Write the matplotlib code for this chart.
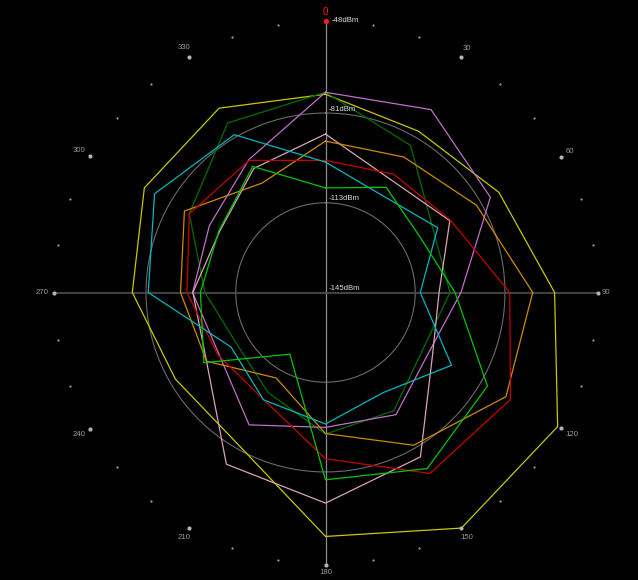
import numpy as np
import matplotlib
matplotlib.use("Agg")
import matplotlib.pyplot as plt

# ---- data (dBm per azimuth) ----
angles_deg = [0, 30, 60, 90, 120, 150, 180, 210, 240, 270, 300, 330]
yellow = [-74.3, -78.6, -73.6, -63.3, -49.4, -48.0, -58.0, -82.5, -83.2, -76.1, -70.4, -69.1]
dark_green = [-73.6, -84.4, -100.6, -100.6, -104.8, -96.3, -94.5, -103.9, -108.4, -102.0, -88.9, -75.2]
violet = [-73.6, -69.7, -77.1, -96.7, -102.4, -94.7, -96.9, -90.5, -101.1, -97.6, -97.2, -90.3]
pink = [-88.5, -98.5, -93.8, -104.5, -100.9, -77.3, -69.9, -74.3, -96.0, -97.7, -101.4, -93.9]
orange = [-91.0, -89.2, -82.8, -71.1, -70.7, -82.1, -94.7, -109.8, -96.0, -93.3, -86.9, -99.9]
red = [-97.9, -96.3, -93.5, -79.3, -68.8, -70.5, -85.7, -100.9, -100.6, -95.6, -88.9, -90.6]
cyan = [-98.5, -104.9, -98.8, -111.2, -93.1, -103.8, -98.1, -100.8, -106.1, -81.8, -74.6, -80.0]
green = [-107.7, -101.7, -105.9, -98.8, -78.3, -72.5, -78.2, -119.6, -94.9, -100.4, -101.1, -93.1]

series = [
    (yellow, "#c8c800"),
    (dark_green, "#006e00"),
    (violet, "#c070c8"),
    (pink, "#dca4b4"),
    (orange, "#d08a00"),
    (red, "#c80000"),
    (cyan, "#00b8c0"),
    (green, "#00c800"),
]

r_min, r_max = -145, -48
ring_levels = [-81, -113]
ring_labels = ["-48dBm", "-81dBm", "-113dBm", "-145dBm"]
ring_label_vals = [-48, -81, -113, -145]
deg_labels = ["0", "30", "60", "90", "120", "150", "180", "210", "240", "270", "300", "330"]

# ---- figure ----
W, H = 638, 580
fig = plt.figure(figsize=(W / 100, H / 100), dpi=100, facecolor="black")
cx, cy, R = 325.5, 292.5, 272
ax = fig.add_axes([(cx - R) / W, (H - cy - R) / H, 2 * R / W, 2 * R / H], projection="polar")
ax.set_facecolor("black")
ax.set_theta_zero_location("N")
ax.set_theta_direction(-1)
ax.set_rlim(r_min, r_max)
ax.grid(False)
ax.set_xticks([])
ax.set_yticks([])
ax.spines["polar"].set_visible(False)

# grid rings
tt = np.linspace(0, 2 * np.pi, 721)
for lv in ring_levels:
    ax.plot(tt, np.full_like(tt, lv), color="#6a6a6a", lw=0.8, zorder=1)

# axis lines
ax.plot([0, 0], [r_max, r_min], color="#8c8c8c", lw=0.9, zorder=1, clip_on=False)
ax.plot([np.pi, np.pi], [r_min, r_max], color="#8c8c8c", lw=0.9, zorder=1, clip_on=False)
ax.plot([np.pi / 2, np.pi / 2], [r_max, r_min], color="#505050", lw=1.2, zorder=1, clip_on=False)
ax.plot([3 * np.pi / 2, 3 * np.pi / 2], [r_min, r_max], color="#505050", lw=1.2, zorder=1, clip_on=False)

# series
th = np.deg2rad(angles_deg + [angles_deg[0]])
for vals, col in series:
    ax.plot(th, vals + [vals[0]], color=col, lw=0.9, zorder=3, clip_on=False)

# dots around
small = [a for a in range(0, 360, 10) if a % 30 != 0]
big = [a for a in range(30, 360, 30)]
ax.scatter(np.deg2rad(small), [r_max] * len(small), s=2.5, color="#a0a0a0", zorder=4, clip_on=False, linewidths=0)
ax.scatter(np.deg2rad(big), [r_max] * len(big), s=9, color="#b4b4b4", zorder=4, clip_on=False, linewidths=0)
ax.scatter([0], [r_max], s=14, color="#ff2020", zorder=5, clip_on=False, linewidths=0)

# degree labels
for lab in deg_labels:
    a = int(lab)
    rad = np.deg2rad(a)
    sx, sy = np.sin(rad), np.cos(rad)
    hw = 2.3 * len(lab)
    d = 4 + hw * abs(sx) + 4.3 * abs(sy)
    col = "#ff2020" if a == 0 else "#9a9a9a"
    fs = 7 if a == 0 else 5.6
    ax.annotate(lab, xy=(rad, r_max), xytext=(d * sx, d * sy), textcoords="offset pixels",
                ha="center", va="center", color=col, fontsize=fs, family="Liberation Sans",
                annotation_clip=False)

# ring labels
for lab, v in zip(ring_labels, ring_label_vals):
    off = (6, 0) if v == r_max else (3, 4)
    ax.annotate(lab, xy=(0, v), xytext=off, textcoords="offset pixels", ha="left", va="center",
                color="#dcdcdc", fontsize=5.6, family="Liberation Sans", annotation_clip=False, zorder=6)

fig.savefig("out.png", dpi=100, facecolor="black")
